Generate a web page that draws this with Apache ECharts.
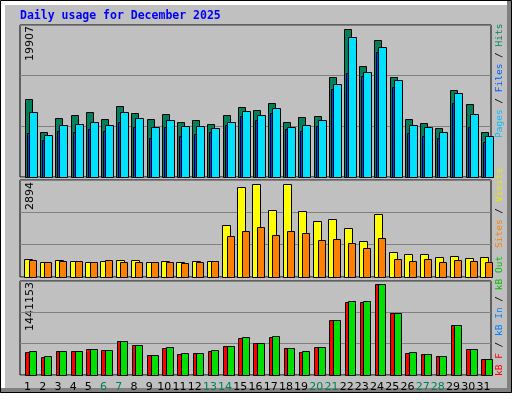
<!DOCTYPE html>
<html><head><meta charset="utf-8">
<script src="https://cdn.jsdelivr.net/npm/echarts@6/dist/echarts.min.js"></script>
<style>html,body{margin:0;padding:0;background:#fff}#c{width:512px;height:400px}</style>
</head><body><div id="c"></div>
<script>
const days = ['1','2','3','4','5','6','7','8','9','10','11','12','13','14','15','16','17','18','19','20','21','22','23','24','25','26','27','28','29','30','31'];
const weekendDays = ['6','7','13','14','20','21','27','28'];
const hits  = [10155,5956,7662,8056,8449,7531,9236,8318,7531,8187,7268,7400,7006,8056,9105,8712,9630,7268,7793,7924,13041,19339,14484,17896,13041,7531,7137,6481,11336,9499,5956];
const pages = [8449,5563,6875,7006,7268,6875,8449,7662,6612,7400,6744,6744,6481,7268,8580,8056,8974,6612,6875,7400,12123,18289,13697,16977,12648,6875,6612,5956,10942,8187,5379];
const files = [5825,4907,6088,5956,6350,6088,7268,6612,5169,6612,5432,5694,5956,6875,7924,7400,8318,6350,6088,6744,11467,13566,13172,16321,11729,5825,5432,5169,9630,6612,4644];
const visits = [549,459,519,489,459,489,519,519,459,489,459,489,489,1566,2674,2763,1985,2763,1955,1656,1716,1476,1087,1865,758,698,698,609,639,579,609];
const sites  = [519,459,489,489,459,519,459,459,459,459,429,459,489,1237,1387,1506,1267,1387,1327,1117,1147,1028,878,1177,549,489,549,459,519,489,459];
const kbF   = [347000,271000,363000,363000,393000,378000,516000,455000,301000,409000,322000,332000,363000,439000,562000,485000,577000,409000,347000,424000,838000,1114000,1114000,1390000,945000,332000,317000,286000,761000,393000,240000];
const kbOut = [363000,286000,363000,363000,393000,378000,516000,455000,301000,424000,332000,332000,378000,439000,577000,485000,593000,409000,363000,424000,838000,1129000,1129000,1390000,945000,347000,317000,286000,761000,393000,240000];
const maxTop = 19907, maxMid = 2894, maxBot = 1441153;

function barSeries(data, grid, color, off, w) {
  return {
    type: 'custom', xAxisIndex: grid, yAxisIndex: grid,
    data: data.map((v, i) => [i, v]),
    renderItem: function (params, api) {
      const top = api.coord([api.value(0), api.value(1)]);
      const base = api.coord([api.value(0), 0]);
      const bw = api.size([1, 0])[0];
      const k = bw / 15.2;
      const left = top[0] - bw / 2;
      return { type: 'rect', shape: { x: Math.round(left + off * k) + 0.5, y: Math.round(top[1]) + 0.5, width: Math.round(w * k), height: Math.round(base[1] - top[1]) },
        style: { fill: color, stroke: '#000', lineWidth: 1 } };
    }
  };
}
const grids = [
  { left: 20, right: 21, top: 25, height: 152 },
  { left: 20, right: 21, top: 180, height: 97 },
  { left: 20, right: 21, top: 281, height: 94 }
];
const maxes = [maxTop, maxMid, maxBot];
const chart = echarts.init(document.getElementById('c'));
const mono = 'DejaVu Sans Mono';
chart.setOption({
  backgroundColor: '#c0c0c0',
  animation: false,
  grid: grids.map(g => Object.assign({ show: true, borderColor: '#000', borderWidth: 1, backgroundColor: '#c0c0c0' }, g)),
  xAxis: grids.map((g, i) => ({
    type: 'category', gridIndex: i, data: days,
    axisLine: { show: false }, axisTick: { show: false },
    axisLabel: i === 2 ? { show: true, fontFamily: 'DejaVu Sans', fontSize: 11, margin: 7, interval: 0,
      color: (v) => weekendDays.includes(v) ? '#00805c' : '#000' } : { show: false }
  })),
  yAxis: grids.map((g, i) => ({
    type: 'value', gridIndex: i, min: 0, max: maxes[i], interval: maxes[i] / 3,
    axisLine: { show: false }, axisTick: { show: false }, axisLabel: { show: false },
    splitLine: { show: true, lineStyle: { color: '#808080', width: 1 } }
  })),
  series: [
    barSeries(hits, 0, '#00805c', 5, 7),
    barSeries(files, 0, '#0040ff', 7, 8),
    barSeries(pages, 0, '#00e0ff', 9, 8),
    barSeries(visits, 1, '#ffff00', 4.5, 8),
    barSeries(sites, 1, '#ff8000', 9, 7.5),
    barSeries(kbF, 2, '#ff0000', 5.5, 8),
    barSeries(kbOut, 2, '#00e000', 9, 7.5)
  ],
  graphic: [
    { type: 'rect', z: -1, silent: true, shape: { x: 0.5, y: 0.5, width: 511, height: 392 }, style: { fill: 'none', stroke: '#000', lineWidth: 1 } },
    { type: 'rect', shape: { x: 1, y: 1, width: 510, height: 4 }, style: { fill: '#fff' } },
    { type: 'rect', shape: { x: 1, y: 1, width: 4, height: 390 }, style: { fill: '#fff' } },
    { type: 'rect', shape: { x: 1, y: 388, width: 510, height: 4 }, style: { fill: '#808080' } },
    { type: 'rect', shape: { x: 507, y: 1, width: 4, height: 391 }, style: { fill: '#808080' } },
    { type: 'rect', shape: { x: 0, y: 393, width: 512, height: 7 }, style: { fill: '#fff' } },
    { type: 'text', x: 20, y: 16, style: { text: 'Daily usage for December 2025', fill: '#0000ff', font: 'bold 11.5px "DejaVu Sans Mono"', verticalAlign: 'middle' } },
    { type: 'text', x: 30, y: 26, rotation: Math.PI / 2, style: { text: String(maxTop), fill: '#000', font: '11px "DejaVu Sans"', align: 'right', verticalAlign: 'middle' } },
    { type: 'text', x: 30, y: 182, rotation: Math.PI / 2, style: { text: String(maxMid), fill: '#000', font: '11px "DejaVu Sans"', align: 'right', verticalAlign: 'middle' } },
    { type: 'text', x: 30, y: 282, rotation: Math.PI / 2, style: { text: String(maxBot), fill: '#000', font: '11px "DejaVu Sans"', align: 'right', verticalAlign: 'middle' } },
    { type: 'text', x: 500, y: 138, rotation: Math.PI / 2, style: { text: '{a|Pages}{s| / }{b|Files}{s| / }{c|Hits}', font: '9.5px "DejaVu Sans Mono"', align: 'left', verticalAlign: 'middle',
      rich: { a: { fill: '#00c0ff', font: '9.5px "DejaVu Sans Mono"' }, b: { fill: '#0060ff', font: '9.5px "DejaVu Sans Mono"' }, c: { fill: '#00805c', font: '9.5px "DejaVu Sans Mono"' }, s: { fill: '#000', font: '9.5px "DejaVu Sans Mono"' } } } },
    { type: 'text', x: 500, y: 248, rotation: Math.PI / 2, style: { text: '{a|Sites}{s| / }{b|Visits}', font: '9.5px "DejaVu Sans Mono"', align: 'left', verticalAlign: 'middle',
      rich: { a: { fill: '#ff8000', font: '9.5px "DejaVu Sans Mono"' }, b: { fill: '#e8e800', font: '9.5px "DejaVu Sans Mono"' }, s: { fill: '#000', font: '9.5px "DejaVu Sans Mono"' } } } },
    { type: 'text', x: 500, y: 376, rotation: Math.PI / 2, style: { text: '{a|kB F}{s| / }{b|kB In}{s| / }{c|kB Out}', font: '9.5px "DejaVu Sans Mono"', align: 'left', verticalAlign: 'middle',
      rich: { a: { fill: '#ff0000', font: '9.5px "DejaVu Sans Mono"' }, b: { fill: '#0080ff', font: '9.5px "DejaVu Sans Mono"' }, c: { fill: '#00c000', font: '9.5px "DejaVu Sans Mono"' }, s: { fill: '#000', font: '9.5px "DejaVu Sans Mono"' } } } }
  ]
});
</script></body></html>
